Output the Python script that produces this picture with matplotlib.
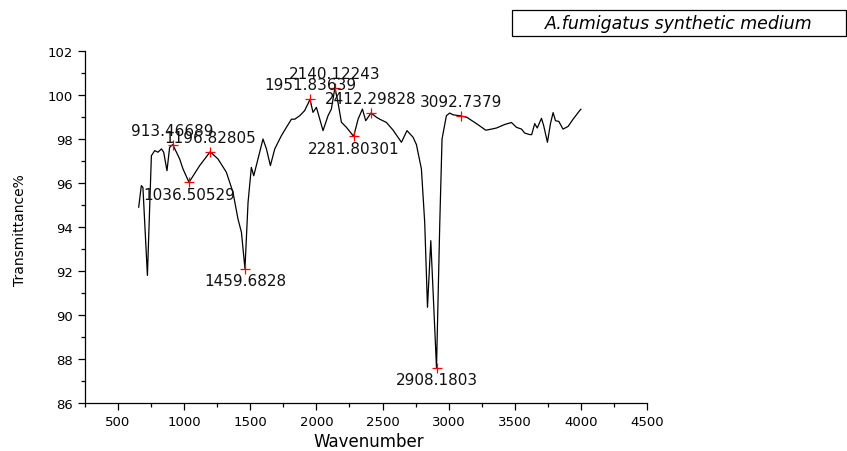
import matplotlib
matplotlib.use("Agg")
import matplotlib.pyplot as plt
from matplotlib.ticker import MultipleLocator
from matplotlib.patches import Rectangle

# ---- data ----
wavenumber = [656, 676, 688, 722, 752, 777, 802, 828, 845, 870, 890, 913.46689,
              966, 991, 1036.50529, 1117, 1196.82805, 1256, 1319, 1369, 1407, 1433,
              1459.6828, 1483, 1508, 1526, 1558, 1596, 1622, 1652, 1685, 1735, 1773,
              1811, 1836, 1874, 1911, 1951.83639, 1974, 2000, 2050, 2088, 2113,
              2140.12243, 2163, 2189, 2227, 2281.80301, 2315, 2348, 2373, 2412.29828,
              2454, 2479, 2530, 2580, 2643, 2685, 2731, 2756, 2794, 2819, 2840, 2865,
              2908.1803, 2933, 2950, 2983, 3008, 3033, 3092.7379, 3139, 3210, 3281,
              3324, 3362, 3424, 3475, 3513, 3551, 3575, 3613, 3628, 3651, 3670, 3702,
              3719, 3747, 3770, 3790, 3808, 3833, 3865, 3903, 3941, 3992, 4000]
transmittance = [94.9, 95.88, 95.8, 91.8, 97.24, 97.47, 97.4, 97.55, 97.4, 96.56, 97.62, 97.75,
                 97.09, 96.64, 96.03, 96.79, 97.42, 97.09, 96.49, 95.58, 94.36, 93.76,
                 92.1, 95.12, 96.71, 96.33, 97.09, 98.0, 97.55, 96.79, 97.55, 98.15, 98.53,
                 98.9, 98.9, 99.06, 99.29, 99.8, 99.21, 99.44, 98.38, 99.06, 99.36,
                 100.33, 99.67, 98.76, 98.53, 98.12, 98.9, 99.36, 98.83, 99.18,
                 98.99, 98.9, 98.75, 98.4, 97.85, 98.38, 98.08, 97.75, 96.64, 94.2, 90.35, 93.38,
                 87.6, 94.2, 98.0, 99.06, 99.18, 99.1, 99.05, 98.98, 98.7, 98.4,
                 98.45, 98.5, 98.66, 98.75, 98.53, 98.45, 98.27, 98.2, 98.2, 98.7, 98.5, 98.94,
                 98.6, 97.85, 98.7, 99.2, 98.83, 98.8, 98.45, 98.57, 98.9, 99.3, 99.35]

peak_wn = [913.46689, 1036.50529, 1196.82805, 1459.6828, 1951.83639, 2140.12243,
           2281.80301, 2412.29828, 2908.1803, 3092.7379]
peak_t = [97.75, 96.03, 97.42, 92.1, 99.8, 100.33, 98.12, 99.18, 87.6, 99.05]
peak_labels = ["913.46689", "1036.50529", "1196.82805", "1459.6828", "1951.83639",
               "2140.12243", "2281.80301", "2412.29828", "2908.1803", "3092.7379"]
peak_side = ["above", "below", "above", "below", "above", "above", "below", "above",
             "below", "above"]

x_ticks = [500, 1000, 1500, 2000, 2500, 3000, 3500, 4000, 4500]
y_ticks = [86, 88, 90, 92, 94, 96, 98, 100, 102]
title_text = "A.fumigatus synthetic medium"

# ---- figure ----
plt.rcParams['font.family'] = ['DejaVu Sans']
fig = plt.figure(figsize=(8.47, 4.52), dpi=100)
ax = fig.add_axes([85/847, 48/452, 562/847, 352/452])

ax.plot(wavenumber, transmittance, color='black', lw=0.9)
ax.plot(peak_wn, peak_t, linestyle='none', marker='+', color='red', ms=6.5, mew=0.9)

for xw, yt, lab, side in zip(peak_wn, peak_t, peak_labels, peak_side):
    off = 10.4 if side == "above" else -8.6
    ax.annotate(lab, (xw, yt), xytext=(0, off), textcoords='offset points',
                ha='center', va='center', fontsize=11, color='#111111')

ax.set_xlim(250, 4500)
ax.set_ylim(86, 102)
ax.set_xticks(x_ticks)
ax.set_yticks(y_ticks)
ax.xaxis.set_minor_locator(MultipleLocator(250))
ax.yaxis.set_minor_locator(MultipleLocator(1))
ax.tick_params(which='major', direction='out', length=5, width=0.9, labelsize=9.5)
ax.tick_params(which='minor', direction='out', length=3, width=0.9)
for s in ['top', 'right']:
    ax.spines[s].set_visible(False)
for s in ['left', 'bottom']:
    ax.spines[s].set_linewidth(0.9)

ax.set_xlabel("Wavenumber", fontsize=12, va='center')
ax.xaxis.set_label_coords(0.505, -0.108)
ax.set_ylabel("Transmittance%", fontsize=10, va='center')
ax.yaxis.set_label_coords(-0.116, 0.494)

# title box
fig.patches.append(Rectangle((512/847, 1 - 37/452), (846-512)/847, 26/452,
                             transform=fig.transFigure, fill=False,
                             edgecolor='black', lw=0.9))
fig.text((512+846)/2/847, 1 - 24/452, title_text, ha='center', va='center',
         fontsize=12.5, style='italic')

fig.savefig("out.png", dpi=100)
